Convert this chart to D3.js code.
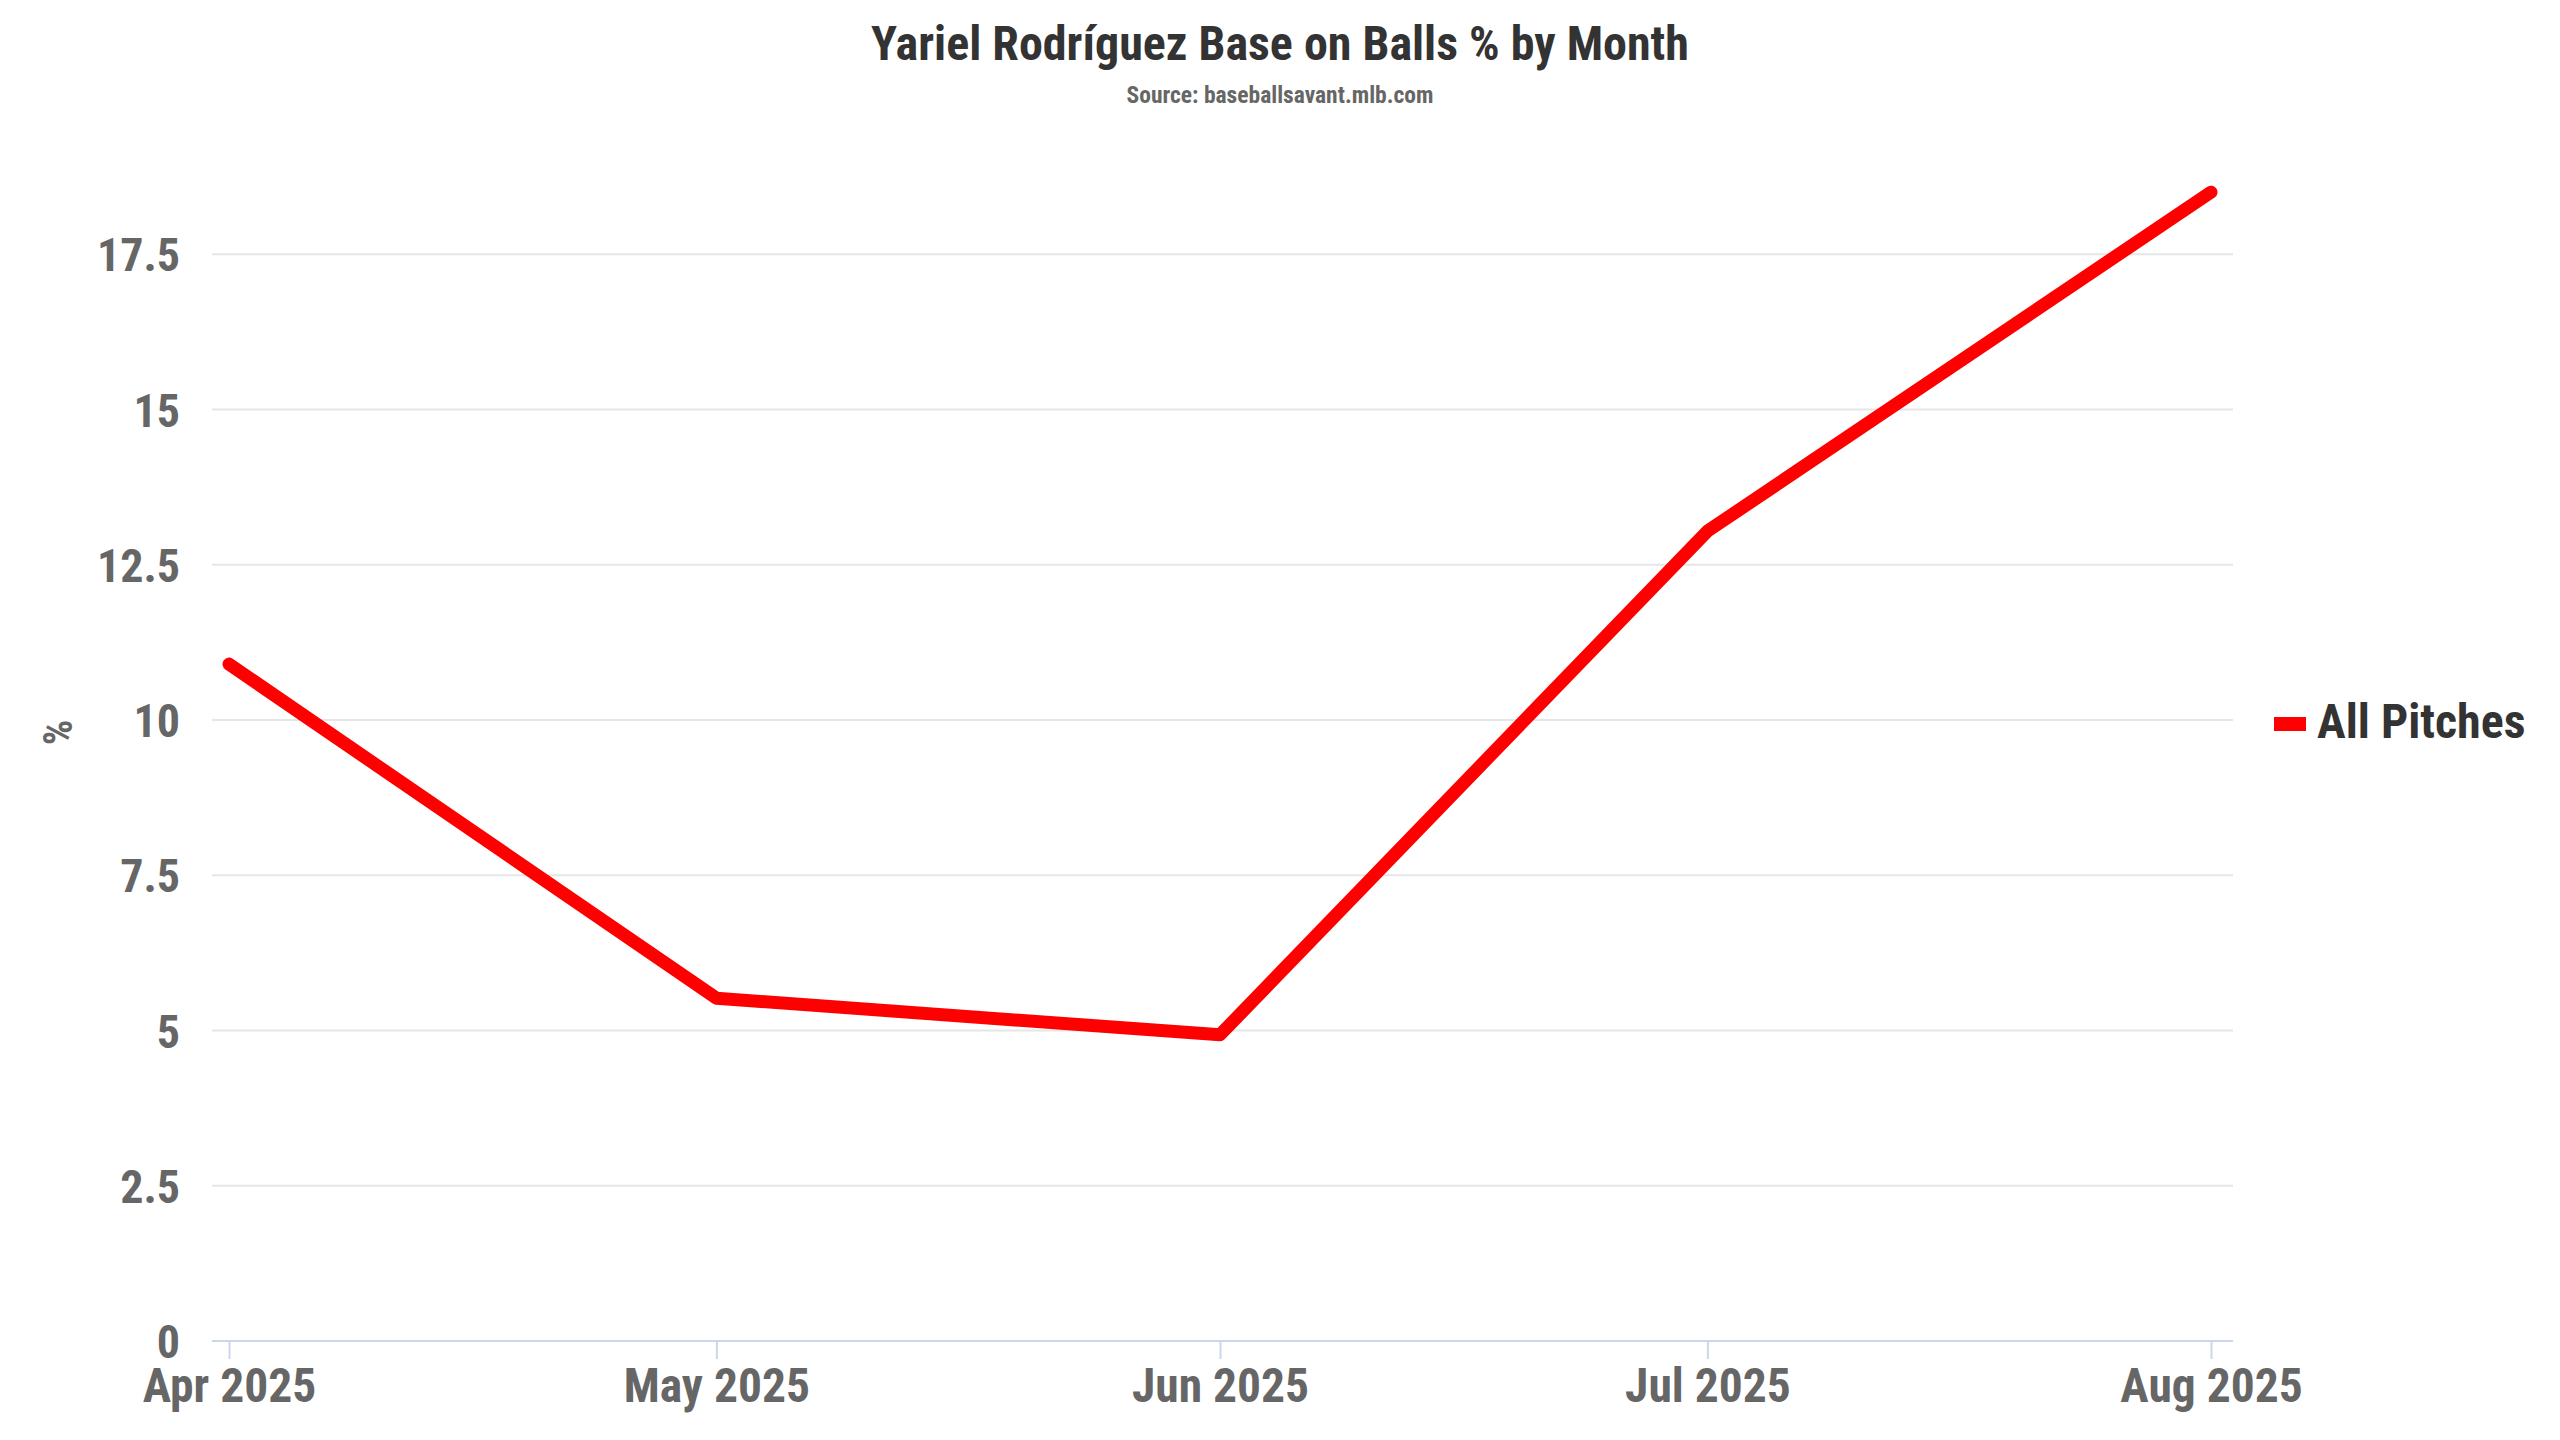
<!DOCTYPE html>
<html>
<head>
<meta charset="utf-8">
<script src="https://cdn.jsdelivr.net/npm/d3@7.9.0/dist/d3.min.js"></script>
<style>
  body { margin: 0; background: #fff; }
  svg text { font-family: "Roboto Condensed", Roboto, sans-serif; font-weight: 700; }
</style>
</head>
<body>
<svg id="chart" width="2560" height="1440"></svg>
<script>
// data
const months = ["2025-04-01", "2025-05-01", "2025-06-01", "2025-07-01", "2025-08-01"];
const bbPct = [10.9, 5.52, 4.93, 13.04, 18.5];
const yTicks = [0, 2.5, 5, 7.5, 10, 12.5, 15, 17.5];
const seriesName = "All Pitches";

const parse = d3.timeParse("%Y-%m-%d");
const data = months.map((m, i) => ({ date: parse(m), value: bbPct[i] }));

const svg = d3.select("#chart");
const W = 2560, H = 1440;
const plot = { left: 212, right: 2233, top: 130, bottom: 1341 };

const x = d3.scaleTime()
  .domain(d3.extent(data, d => d.date))
  .range([229, 2211]);

const y = d3.scaleLinear()
  .domain([0, 19.5])
  .range([plot.bottom, plot.bottom - 19.5 * 62.1]);

// title
svg.append("text")
  .attr("x", W / 2).attr("y", 60)
  .attr("text-anchor", "middle")
  .attr("fill", "#333")
  .attr("font-size", 48)
  .text("Yariel Rodríguez Base on Balls % by Month");

svg.append("text")
  .attr("x", W / 2).attr("y", 103)
  .attr("text-anchor", "middle")
  .attr("fill", "#666")
  .attr("font-size", 23.5)
  .text("Source: baseballsavant.mlb.com");

// grid
svg.append("g")
  .selectAll("line")
  .data(yTicks.slice(1))
  .join("line")
  .attr("x1", plot.left).attr("x2", plot.right)
  .attr("y1", d => y(d)).attr("y2", d => y(d))
  .attr("stroke", "#e6e6e6").attr("stroke-width", 2);

// y labels
svg.append("g")
  .selectAll("text")
  .data(yTicks)
  .join("text")
  .attr("x", 180)
  .attr("y", d => y(d) + 17)
  .attr("text-anchor", "end")
  .attr("fill", "#666")
  .attr("font-size", 46)
  .text(d => d);

// y title
svg.append("text")
  .attr("transform", `translate(72,${y(9.75) - 3}) rotate(-90)`)
  .attr("text-anchor", "middle")
  .attr("fill", "#666")
  .attr("font-size", 40)
  .text("%");

// x axis
const xAxis = d3.axisBottom(x)
  .tickValues(data.map(d => d.date))
  .tickSize(18)
  .tickFormat(d3.timeFormat("%b %Y"));

const gx = svg.append("g")
  .attr("transform", `translate(0,${plot.bottom})`)
  .call(xAxis);
gx.select(".domain").remove();
gx.append("line")
  .attr("x1", plot.left).attr("x2", plot.right)
  .attr("stroke", "#ccd6eb").attr("stroke-width", 2);
gx.selectAll(".tick line").attr("stroke", "#ccd6eb").attr("stroke-width", 2);
gx.selectAll(".tick text")
  .attr("y", 61).attr("dy", null)
  .attr("fill", "#666")
  .attr("font-size", 47.5)
  .attr("font-family", null);

// line
const line = d3.line()
  .x(d => x(d.date))
  .y(d => y(d.value));

svg.append("path")
  .datum(data)
  .attr("d", line)
  .attr("fill", "none")
  .attr("stroke", "#ff0000")
  .attr("stroke-width", 13)
  .attr("stroke-linejoin", "round")
  .attr("stroke-linecap", "round");

// legend
const lg = svg.append("g").attr("transform", "translate(2274,724)");
lg.append("rect")
  .attr("x", 0).attr("y", -7)
  .attr("width", 32).attr("height", 14)
  .attr("fill", "#ff0000");
lg.append("text")
  .attr("x", 43).attr("y", 14)
  .attr("fill", "#333")
  .attr("font-size", 48)
  .text(seriesName);
</script>
</body>
</html>
